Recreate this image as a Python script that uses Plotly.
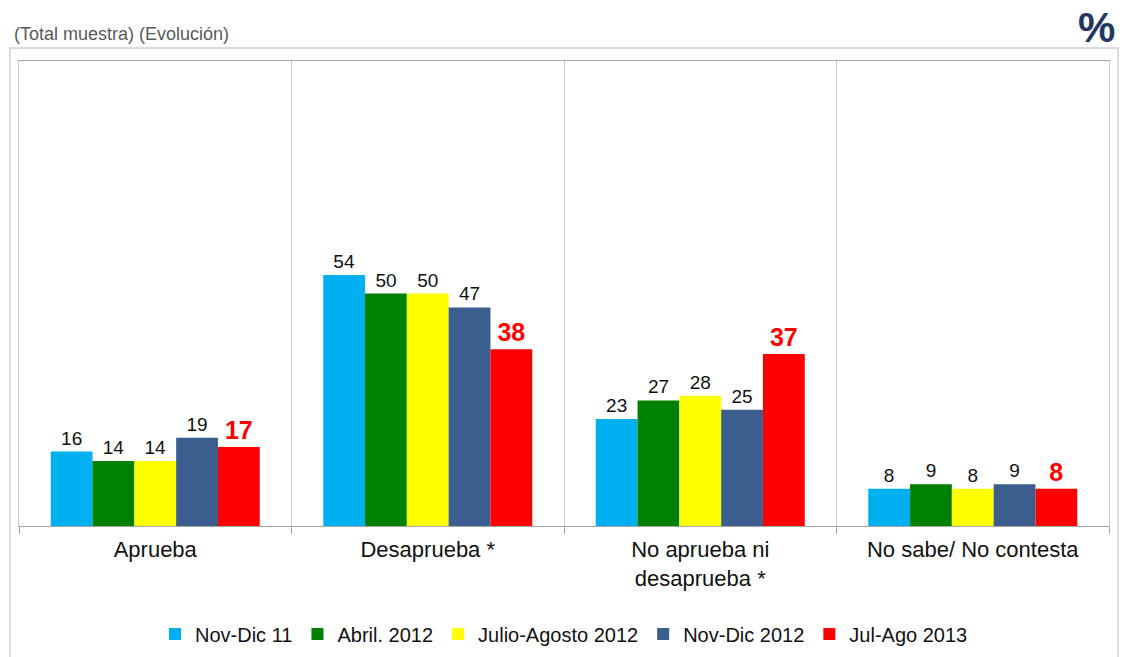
import plotly.graph_objects as go

categories = ["Aprueba", "Desaprueba *", "No aprueba ni<br>desaprueba *", "No sabe/ No contesta"]
series_names = ["Nov-Dic 11", "Abril. 2012", "Julio-Agosto 2012", "Nov-Dic 2012", "Jul-Ago 2013"]
nov_dic_11 = [16, 54, 23, 8]
abril_2012 = [14, 50, 27, 9]
julio_agosto_2012 = [14, 50, 28, 8]
nov_dic_2012 = [19, 47, 25, 9]
jul_ago_2013 = [17, 38, 37, 8]
series_values = [nov_dic_11, abril_2012, julio_agosto_2012, nov_dic_2012, jul_ago_2013]
colors = ["#00B0F0", "#008000", "#FFFF00", "#3B5E8F", "#FF0000"]

FONT = "Arial, Liberation Sans, sans-serif"

fig = go.Figure()
for i, (name, vals, col) in enumerate(zip(series_names, series_values, colors)):
    last = i == len(series_names) - 1
    fig.add_trace(go.Bar(
        x=categories, y=vals, name=name,
        marker=dict(color=col, line=dict(width=0)),
        text=[str(v) for v in vals],
        textposition="outside",
        cliponaxis=False,
        textfont=dict(family=FONT,
                      size=25 if last else 19,
                      color="#FF0000" if last else "#111111",
                      weight="bold" if last else "normal"),
    ))

fig.update_layout(
    width=1125, height=657,
    margin=dict(l=19, r=16, t=61, b=131, autoexpand=False),
    paper_bgcolor="white", plot_bgcolor="white",
    barmode="group", bargap=0.233, bargroupgap=0,
    font=dict(family=FONT, color="#111111"),
    showlegend=True,
    legend=dict(orientation="h", x=0.5, xanchor="center", y=-0.232, yanchor="middle",
                font=dict(family=FONT, size=20, color="#111111"),
                traceorder="normal"),
    xaxis=dict(
        tickson="boundaries", ticks="outside", ticklen=7, tickcolor="#A6A6A6",
        showgrid=True, gridcolor="#C8C8C8", gridwidth=1,
        showline=True, linecolor="#A6A6A6", linewidth=1, mirror=True,
        tickfont=dict(family=FONT, size=22, color="#111111"),
        ticklabelstandoff=4,
        range=[-0.5, 3.5],
    ),
    yaxis=dict(
        range=[0, 100], showticklabels=False, showgrid=False, zeroline=False,
        showline=True, linecolor="#C8C8C8", linewidth=1, mirror=True, ticks="",
    ),
    shapes=[
        dict(type="rect", xref="paper", yref="paper",
             x0=-0.0083, x1=1.0083, y0=-0.35, y1=1.028,
             line=dict(color="#D0D0D0", width=1.5), layer="below"),
    ],
    annotations=[
        dict(text="(Total muestra) (Evolución)", xref="paper", yref="paper",
             x=-0.0065, y=1.058, xanchor="left", yanchor="middle", showarrow=False,
             font=dict(family=FONT, size=18, color="#595959")),
        dict(text="<b>%</b>", xref="paper", yref="paper",
             x=1.0073, y=1.073, xanchor="right", yanchor="middle", showarrow=False,
             font=dict(family=FONT, size=42, color="#1F3763")),
    ],
)

fig.write_html("out.html")
